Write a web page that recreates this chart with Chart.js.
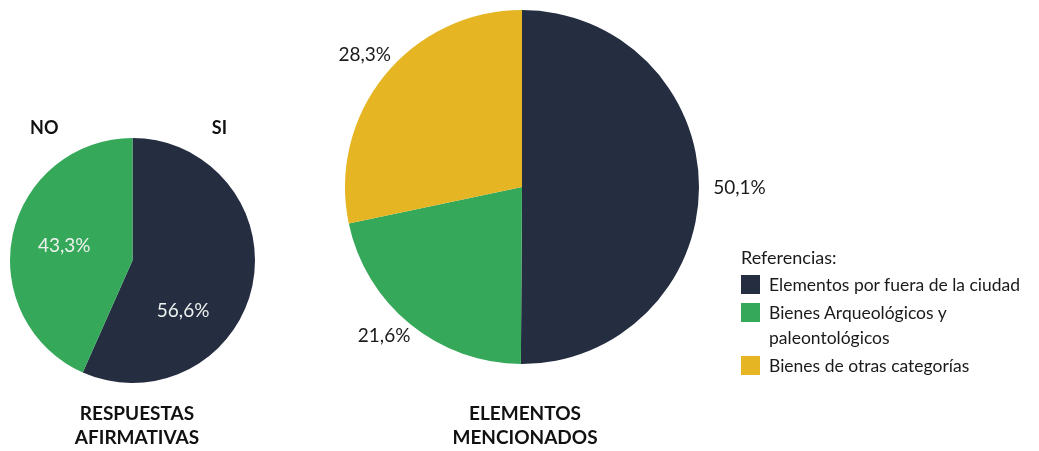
<!DOCTYPE html>
<html>
<head>
<meta charset="utf-8">
<script src="https://cdn.jsdelivr.net/npm/chart.js@4/dist/chart.umd.min.js"></script>
<style>
  html, body { margin: 0; padding: 0; background: #ffffff; }
  #stage { position: relative; width: 1039px; height: 451px; overflow: hidden; font-family: Lato, "Open Sans", sans-serif; color: #1a1a1a; }
  #stage canvas { position: absolute; left: 0; top: 0; }
  .title { position: absolute; text-align: center; font-weight: 700; font-size: 19px; line-height: 24px; color: #111; }
  #legend { position: absolute; left: 741px; top: 245px; font-size: 17.5px; color: #1a1a1a; }
  #legend .head { margin-bottom: 3px; font-size: 18px; line-height: 24px; }
  #legend .item { position: relative; padding-left: 28px; line-height: 25px; margin-bottom: 3px; width: 280px; }
  #legend .box { position: absolute; left: 0; top: 3px; width: 19px; height: 19px; }
</style>
</head>
<body>
<div id="stage">
  <canvas id="c1" width="1039" height="451"></canvas>
  <canvas id="c2" width="1039" height="451"></canvas>
  <div class="title" style="left:57px; top:401px; width:160px;">RESPUESTAS<br>AFIRMATIVAS</div>
  <div class="title" style="left:445px; top:401px; width:160px;">ELEMENTOS<br>MENCIONADOS</div>
  <div id="legend"></div>
</div>
<script>
// Respuestas afirmativas
const answerLabels = ['SI', 'NO'];
const answerValues = [56.6, 43.3];
const answerColors = ['#252d41', '#35a85a'];

// Elementos mencionados
const elementLabels = ['Elementos por fuera de la ciudad', 'Bienes Arqueológicos y paleontológicos', 'Bienes de otras categorías'];
const elementLegendLines = [['Elementos por fuera de la ciudad'], ['Bienes Arqueológicos y', 'paleontológicos'], ['Bienes de otras categorías']];
const elementValues = [50.1, 21.6, 28.3];
const elementColors = ['#252d41', '#35a85a', '#e5b523'];

const legendTitle = 'Referencias:';

const fmt = v => v.toFixed(1).replace('.', ',') + '%';
const FONT = 'Lato, "Open Sans", sans-serif';

// Draws the percentage of each slice, either inside (at a fraction of the radius)
// or just outside the rim, aligned away from the pie.
const sliceLabels = {
  id: 'sliceLabels',
  afterDatasetsDraw(chart, args, opts) {
    const ctx = chart.ctx;
    const meta = chart.getDatasetMeta(0);
    const values = chart.data.datasets[0].data;
    ctx.save();
    ctx.font = opts.font;
    ctx.textBaseline = 'middle';
    meta.data.forEach((arc, i) => {
      const p = arc.getProps(['x', 'y', 'startAngle', 'endAngle', 'outerRadius'], true);
      const pos = opts.placement[i];
      const a = p.startAngle + pos.frac * (p.endAngle - p.startAngle);
      const r = p.outerRadius * pos.radius;
      const x = p.x + Math.cos(a) * r;
      const y = p.y + Math.sin(a) * r;
      ctx.fillStyle = pos.color;
      if (pos.radius > 1) {
        ctx.textAlign = Math.cos(a) >= 0 ? 'left' : 'right';
      } else {
        ctx.textAlign = 'center';
      }
      ctx.fillText(fmt(values[i]), x, y);
    });
    // category names above the pie
    if (opts.names) {
      const p0 = meta.data[0].getProps(['x', 'y', 'outerRadius'], true);
      ctx.font = opts.namesFont;
      ctx.fillStyle = '#111';
      ctx.textAlign = 'center';
      opts.names.forEach(n => {
        ctx.fillText(chart.data.labels[n.index], p0.x + n.dx * p0.outerRadius, p0.y - p0.outerRadius - 10);
      });
    }
    ctx.restore();
  }
};

const baseOptions = (padding, labelOpts) => ({
  responsive: false,
  animation: false,
  events: [],
  layout: { padding },
  plugins: { legend: { display: false }, tooltip: { enabled: false }, sliceLabels: labelOpts }
});

new Chart(document.getElementById('c1'), {
  type: 'pie',
  data: {
    labels: answerLabels,
    datasets: [{ data: answerValues, backgroundColor: answerColors, borderWidth: 0 }]
  },
  options: baseOptions(
    { left: 10, top: 138, right: 1039 - 255, bottom: 451 - 383 },
    {
      font: '19px ' + FONT,
      placement: [
        { frac: 0.66, radius: 0.58, color: '#eef2ee' },
        { frac: 0.5, radius: 0.57, color: '#eef2ee' }
      ],
      names: [{ index: 0, dx: 0.71 }, { index: 1, dx: -0.72 }],
      namesFont: 'bold 18px ' + FONT
    }
  ),
  plugins: [sliceLabels]
});

new Chart(document.getElementById('c2'), {
  type: 'pie',
  data: {
    labels: elementLabels,
    datasets: [{ data: elementValues, backgroundColor: elementColors, borderWidth: 0 }]
  },
  options: baseOptions(
    { left: 345, top: 10, right: 1039 - 699, bottom: 451 - 364 },
    {
      font: '19px ' + FONT,
      placement: [
        { frac: 0.5, radius: 1.08, color: '#1a1a1a' },
        { frac: 0.47, radius: 1.05, color: '#1a1a1a' },
        { frac: 0.56, radius: 1.05, color: '#1a1a1a' }
      ]
    }
  ),
  plugins: [sliceLabels]
});

// Legend for the second pie
const legend = document.getElementById('legend');
const head = document.createElement('div');
head.className = 'head';
head.textContent = legendTitle;
legend.appendChild(head);
elementLegendLines.forEach((lines, i) => {
  const item = document.createElement('div');
  item.className = 'item';
  const box = document.createElement('span');
  box.className = 'box';
  box.style.background = elementColors[i];
  item.appendChild(box);
  lines.forEach((t, j) => {
    if (j) item.appendChild(document.createElement('br'));
    item.appendChild(document.createTextNode(t));
  });
  legend.appendChild(item);
});
</script>
</body>
</html>
